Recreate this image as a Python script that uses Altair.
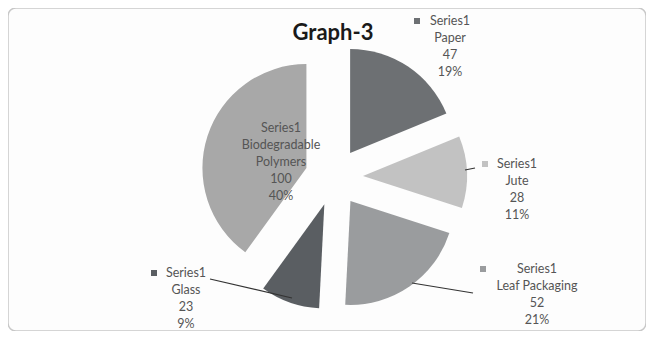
import altair as alt
import pandas as pd

# ---- data ----
categories = ["Paper", "Jute", "Leaf Packaging", "Glass", "Biodegradable Polymers"]
values = [47, 28, 52, 23, 100]
series_name = "Series1"
title_text = "Graph-3"

# ---- styles ----
slice_colors = ["#6d7073", "#c2c2c2", "#9a9c9e", "#5a5e62", "#a8a8a8"]
FONT = "Lato"

# ---- layout (pixels inside the chart area) ----
CX, CY = 326, 169   # pie centre
R = 104             # pie radius
EXPLODE = 29        # slice explosion distance
# label first-line centre offsets from the pie centre
label_off = [(116, -156), (183, -13), (203, 92), (-148, 96), (-53, -49)]
# legend-key square offsets from the pie centre (None = no key)
key_off = [(83, -156), (151, -13), (149, 92), (-180, 96), None]
# leader lines (from, to) offsets from the pie centre
leader_off = [None, ((131, -7), (141, -9)), ((78, 106), (139, 116)), ((-124, 102), (-42, 121)), None]

total = sum(values)
df = pd.DataFrame({
    "order": list(range(len(categories))),
    "category": categories,
    "value": values,
})
df["label"] = [
    f"{series_name}\n{c if c != 'Biodegradable Polymers' else 'Biodegradable\nPolymers'}\n{v}\n{round(v / total * 100)}%"
    for c, v in zip(categories, values)
]
df["lx"] = [CX + o[0] for o in label_off]
df["ly"] = [CY + o[1] for o in label_off]

color = alt.Color("category:N", scale=alt.Scale(domain=categories, range=slice_colors), legend=None)

pie = alt.Chart(df).transform_joinaggregate(
    total="sum(value)"
).transform_window(
    cum="sum(value)", sort=[alt.SortField("order")], frame=[None, 0]
).transform_calculate(
    t0="2*PI*(datum.cum - datum.value)/datum.total",
    t1="2*PI*datum.cum/datum.total",
).transform_calculate(
    mid="(datum.t0 + datum.t1)/2"
).transform_calculate(
    cx=f"{CX} + {EXPLODE}*sin(datum.mid)",
    cy=f"{CY} - {EXPLODE}*cos(datum.mid)",
).mark_arc(radius=R).encode(
    theta=alt.Theta("t0:Q", scale=None),
    theta2=alt.Theta2("t1:Q"),
    x=alt.X("cx:Q", scale=None),
    y=alt.Y("cy:Q", scale=None),
    color=color,
)

labels = alt.Chart(df).mark_text(
    lineBreak="\n", font=FONT, fontSize=12.5, lineHeight=17,
    align="center", baseline="middle", color="#555555",
).encode(
    x=alt.X("lx:Q", scale=None),
    y=alt.Y("ly:Q", scale=None),
    text="label:N",
)

key_rows = [
    {"category": c, "kx": CX + k[0], "ky": CY + k[1]}
    for c, k in zip(categories, key_off) if k is not None
]
keys = alt.Chart(pd.DataFrame(key_rows)).mark_square(size=36, opacity=1).encode(
    x=alt.X("kx:Q", scale=None),
    y=alt.Y("ky:Q", scale=None),
    color=color,
)

lead_rows = [
    {"category": c, "x1": CX + l[0][0], "y1": CY + l[0][1], "x2": CX + l[1][0], "y2": CY + l[1][1]}
    for c, l in zip(categories, leader_off) if l is not None
]
leaders = alt.Chart(pd.DataFrame(lead_rows)).mark_rule(color="#333333", strokeWidth=1.2).encode(
    x=alt.X("x1:Q", scale=None),
    y=alt.Y("y1:Q", scale=None),
    x2="x2:Q",
    y2="y2:Q",
)

title = alt.Chart(pd.DataFrame({"t": [title_text]})).mark_text(
    font=FONT, fontSize=22, fontWeight="bold", color="#1a1a1a",
    align="center", baseline="middle",
).encode(
    x=alt.value(CX - 1),
    y=alt.value(25),
    text="t:N",
)

chart = alt.layer(pie, leaders, keys, labels, title).properties(
    width=638,
    height=323,
    padding=0,
    autosize=alt.AutoSizeParams(type="none"),
    background="#ffffff",
).configure_view(
    stroke="#c8c8c8", strokeWidth=1.5, cornerRadius=8, fill="#fdfdfd",
)

chart.save("out.html", embed_options={"renderer": "svg", "actions": False})
